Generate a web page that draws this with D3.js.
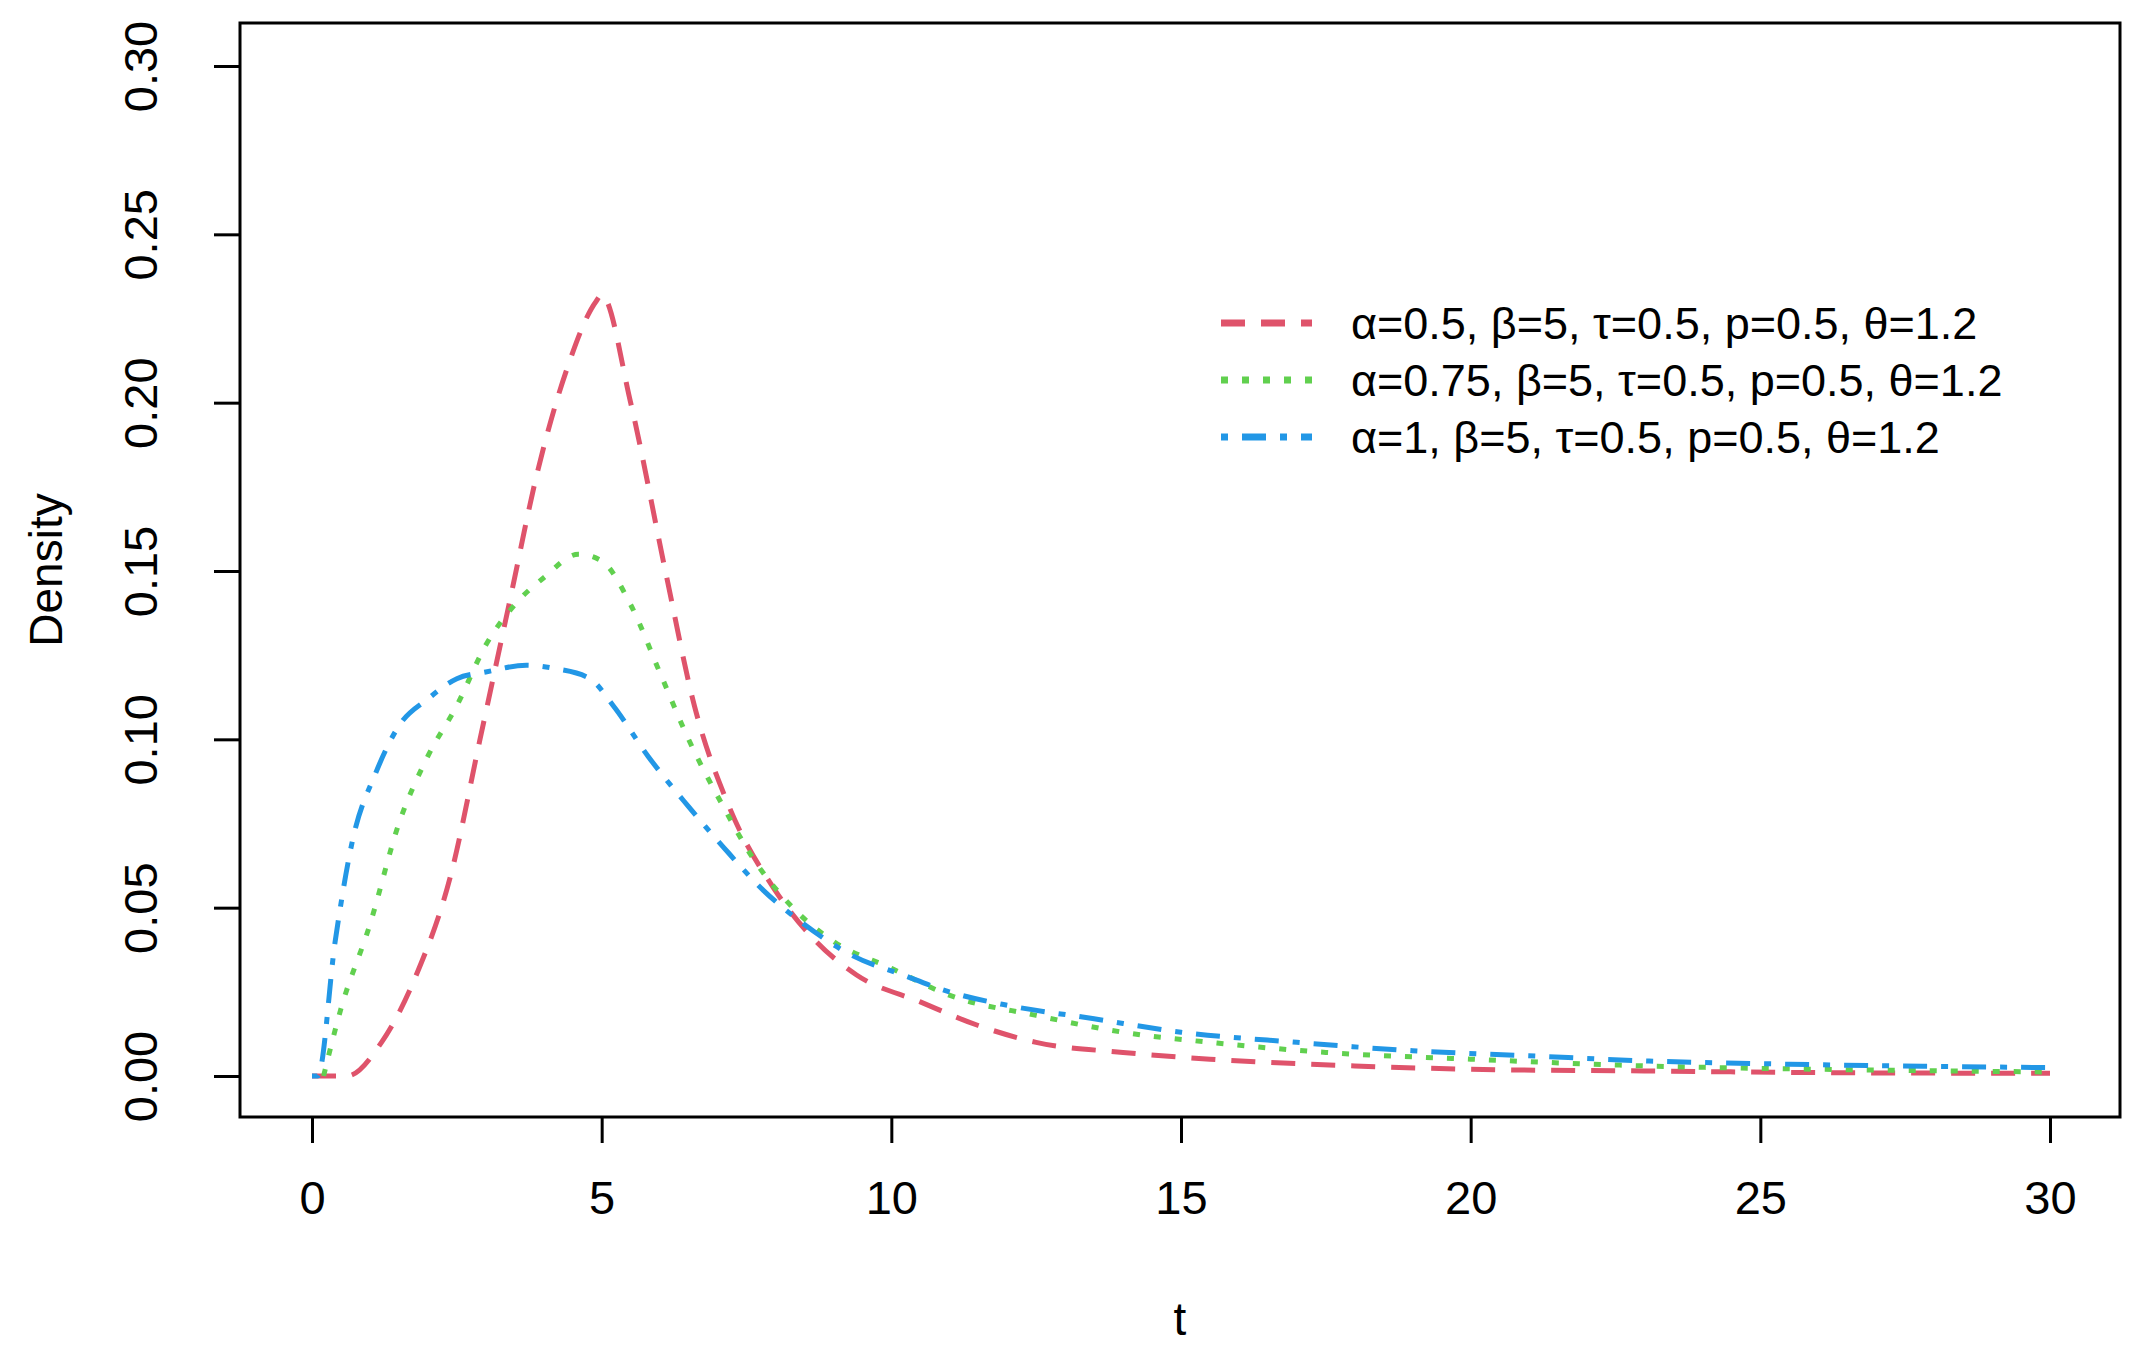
<!DOCTYPE html>
<html>
<head>
<meta charset="utf-8">
<script src="https://cdn.jsdelivr.net/npm/d3@7"></script>
<style>
  body { margin: 0; background: #fff; }
  text { font-family: "Liberation Sans", Arial, sans-serif; }
</style>
</head>
<body>
<div id="chart"></div>
<script>
"use strict";

// values
const redT   = [0, 0.6, 1.2, 1.8, 2.4, 2.9, 3.4, 3.9, 4.4, 4.9, 5.0, 5.5, 6.1, 6.6, 7.2, 8, 8.7, 9.4, 10.5, 11.5, 12.5, 14, 15.5, 18, 20, 23, 26, 30];
const redY   = [0, 0, 0.01, 0.03, 0.06, 0.1, 0.14, 0.18, 0.21, 0.23, 0.232, 0.2, 0.15, 0.11, 0.08, 0.055, 0.04, 0.03, 0.022, 0.015, 0.01, 0.007, 0.005, 0.003, 0.002, 0.0015, 0.001, 0.0008];
const greenT = [0.2, 0.5, 1, 1.5, 2, 2.5, 3, 3.5, 4, 4.6, 5.0, 5.5, 6, 6.5, 7.1, 7.6, 8.3, 9, 10, 11, 12.5, 14, 15.5, 17.5, 20, 23, 26, 30];
const greenY = [0, 0.02, 0.045, 0.075, 0.095, 0.11, 0.128, 0.14, 0.148, 0.155, 0.153, 0.14, 0.12, 0.1, 0.08, 0.065, 0.05, 0.04, 0.032, 0.024, 0.018, 0.013, 0.01, 0.007, 0.005, 0.003, 0.002, 0.0012];
const blueT  = [0, 0.1, 0.4, 0.7, 1.1, 1.5, 2, 2.5, 3, 3.7, 4.2, 4.8, 5.2, 5.8, 6.5, 7.1, 7.8, 8.5, 9.3, 10.2, 11, 12, 13.5, 15, 17, 19, 21, 23, 25.5, 30];
const blueY  = [0, 0, 0.04, 0.07, 0.09, 0.104, 0.112, 0.118, 0.12, 0.122, 0.121, 0.118, 0.11, 0.095, 0.08, 0.068, 0.055, 0.045, 0.036, 0.03, 0.025, 0.021, 0.017, 0.013, 0.01, 0.0075, 0.006, 0.0045, 0.0035, 0.0025];
const xTicks = [0, 5, 10, 15, 20, 25, 30];
const yTicks = [0, 0.05, 0.10, 0.15, 0.20, 0.25, 0.30];
const seriesLabels = [
    "α=0.5, β=5, τ=0.5, p=0.5, θ=1.2",
    "α=0.75, β=5, τ=0.5, p=0.5, θ=1.2",
    "α=1, β=5, τ=0.5, p=0.5, θ=1.2"
];

const W = 2139, H = 1367;
const box = { left: 240, right: 2120, top: 23, bottom: 1117 };

const svg = d3.select("#chart").append("svg")
    .attr("width", W).attr("height", H);

const x = d3.scaleLinear().domain([0, 30]).range([312, 2050]);
const y = d3.scaleLinear().domain([0, 0.30]).range([1076, 66]);

const series = [
    { t: redT, v: redY, color: "#DF536B", dash: "24,16" },
    { t: greenT, v: greenY, color: "#61D04F", dash: "7,14" },
    { t: blueT, v: blueY, color: "#2297E6", dash: "7,14,24,14" }
];

const line = d3.line()
    .x(d => x(d[0]))
    .y(d => y(d[1]))
    .curve(d3.curveMonotoneX);

series.forEach(s => {
    svg.append("path")
        .datum(s.t.map((t, i) => [t, s.v[i]]))
        .attr("fill", "none")
        .attr("stroke", s.color)
        .attr("stroke-width", 5)
        .attr("stroke-dasharray", s.dash)
        .attr("d", line);
});

// frame
svg.append("rect")
    .attr("x", box.left).attr("y", box.top)
    .attr("width", box.right - box.left).attr("height", box.bottom - box.top)
    .attr("fill", "none").attr("stroke", "#000").attr("stroke-width", 3);

// x axis
const xAxis = svg.append("g")
    .attr("transform", "translate(0," + box.bottom + ")")
    .call(d3.axisBottom(x).tickValues(xTicks).tickSize(26).tickPadding(38));
xAxis.select(".domain").attr("stroke", "none");
xAxis.selectAll(".tick line").attr("stroke-width", 3);
xAxis.selectAll("text").attr("font-size", 47).attr("fill", "#000")
    .style("font-family", "'Liberation Sans', Arial, sans-serif");

// y axis
const yAxis = svg.append("g")
    .attr("transform", "translate(" + box.left + ",0)")
    .call(d3.axisLeft(y).tickValues(yTicks).tickSize(26).tickFormat(d3.format(".2f")));
yAxis.select(".domain").attr("stroke", "none");
yAxis.selectAll(".tick line").attr("stroke-width", 3);
yAxis.selectAll("text")
    .attr("font-size", 47).attr("fill", "#000")
    .style("font-family", "'Liberation Sans', Arial, sans-serif")
    .attr("text-anchor", "middle")
    .attr("x", 0).attr("dy", 0)
    .attr("transform", "translate(-83,0) rotate(-90)");

// axis titles
svg.append("text")
    .attr("x", (box.left + box.right) / 2).attr("y", 1335)
    .attr("text-anchor", "middle").attr("font-size", 46).text("t");
svg.append("text")
    .attr("transform", "translate(62," + ((box.top + box.bottom) / 2) + ") rotate(-90)")
    .attr("text-anchor", "middle").attr("font-size", 46).text("Density");

// legend
const legend = svg.append("g");
series.forEach((s, i) => {
    const ly = 323 + i * 57;
    legend.append("line")
        .attr("x1", 1221).attr("x2", 1312).attr("y1", ly).attr("y2", ly)
        .attr("stroke", s.color).attr("stroke-width", 7)
        .attr("stroke-dasharray", s.dash);
    legend.append("text")
        .attr("x", 1351).attr("y", ly + 16)
        .attr("font-size", 45).text(seriesLabels[i]);
});
</script>
</body>
</html>
